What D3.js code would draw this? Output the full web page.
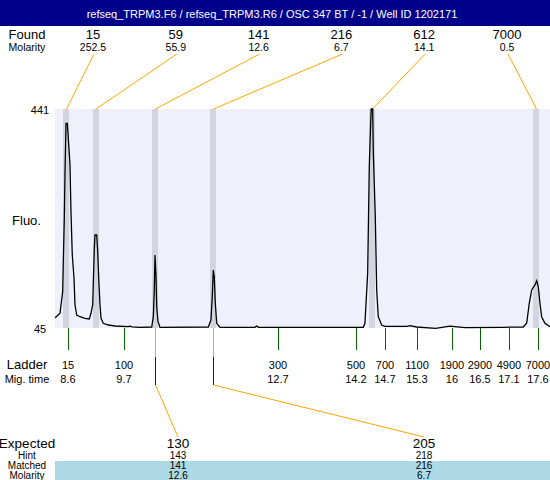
<!DOCTYPE html>
<html><head><meta charset="utf-8">
<script src="https://cdn.jsdelivr.net/npm/d3@7"></script>
<style>body{margin:0;background:#fff} text{font-family:"Liberation Sans",Arial,sans-serif}</style>
</head><body><svg id="c" width="550" height="480"></svg>
<script>
const title = "refseq_TRPM3.F6 / refseq_TRPM3.R6 / OSC 347 BT / -1 / Well ID 1202171";
const foundSize = [15, 59, 141, 216, 612, 7000];
const foundMolarity = ["252.5", "55.9", "12.6", "6.7", "14.1", "0.5"];
const foundTime = [8.570, 9.135, 10.274, 11.385, 14.430, 17.571];
const ladderSize = [15, 100, 300, 500, 700, 1100, 1900, 2900, 4900, 7000];
const ladderMigTime = ["8.6", "9.7", "12.7", "14.2", "14.7", "15.3", "16", "16.5", "17.1", "17.6"];
const ladderPeakTime = [8.599, 9.671, 12.620, 14.114, 14.669, 15.282, 15.952, 16.488, 17.043, 17.599];
const expectedSize = [130, 205];
const hintSize = [143, 218];
const matchedSize = [141, 216];
const matchedMolarity = ["12.6", "6.7"];
const yTicks = [45, 441];
const traceTime = [8.350,8.394,8.446,8.497,8.509,8.528,8.542,8.561,8.586,8.605,8.637,8.656,8.681,8.714,8.733,8.766,8.829,8.925,9.007,9.039,9.072,9.083,9.103,9.116,9.149,9.168,9.187,9.212,9.231,9.275,9.371,9.499,9.754,9.786,9.824,9.978,10.202,10.233,10.252,10.265,10.285,10.298,10.323,10.361,11.286,11.337,11.362,11.381,11.400,11.420,11.447,11.510,12.180,12.213,12.247,14.254,14.286,14.338,14.369,14.395,14.407,14.434,14.445,14.484,14.511,14.541,14.606,14.669,15.085,15.148,15.276,15.640,15.914,16.201,16.935,17.318,17.383,17.433,17.479,17.542,17.575,17.605,17.638,17.670,17.733,17.829];
const traceFluo = [63.1,67.2,71.6,110.6,164.9,243.4,327.6,415.1,415.1,388.0,339.8,255.3,177.0,134.9,86.6,68.5,65.4,62.5,61.3,71.6,86.6,122.8,189.1,213.2,213.2,183.0,134.9,86.6,62.5,53.5,50.4,48.6,47.4,48.3,47.2,46.3,46.8,65.4,113.7,177.0,137.8,83.5,56.4,46.3,46.8,59.5,101.6,149.9,137.8,89.7,53.5,46.3,46.3,48.6,46.3,46.3,53.5,143.9,336.7,415.1,441,441,366.9,246.3,113.7,65.4,50.4,48.1,48.1,49.2,46.8,44.5,48.3,45.5,46.3,46.8,53.5,89.7,113.7,122.8,130.5,119.7,89.7,65.4,53.5,47.4];

const svg = d3.select("#c");
const W = 550, H = 480;
const x = d3.scaleLinear().domain([8.35, 17.83]).range([55, 550]);
const y = d3.scaleLinear().domain([45, 441]).range([328, 109]);
const orange = "#ffa500", green = "#006400";
const labelX = 27;
const px = v => Math.round(v) + 0.5;

svg.append("rect").attr("width", W).attr("height", H).attr("fill", "#fff");
// title bar
svg.append("rect").attr("x", 0).attr("y", 0).attr("width", W).attr("height", 26).attr("fill", "#00008b");
svg.append("text").attr("x", 272).attr("y", 13.5).attr("text-anchor", "middle").attr("dominant-baseline", "central")
  .attr("fill", "#fff").attr("font-size", 11).text(title);

// found rows
const fx = d3.scalePoint().domain(d3.range(foundSize.length)).range([93, 507]);
svg.append("text").attr("x", labelX).attr("y", 34).attr("text-anchor", "middle").attr("dominant-baseline", "central").attr("font-size", 13).text("Found");
svg.append("text").attr("x", labelX).attr("y", 47).attr("text-anchor", "middle").attr("dominant-baseline", "central").attr("font-size", 10.5).text("Molarity");
svg.selectAll(".fs").data(foundSize).join("text").attr("x", (d, i) => fx(i)).attr("y", 34)
  .attr("text-anchor", "middle").attr("dominant-baseline", "central").attr("font-size", 13).text(d => d);
svg.selectAll(".fm").data(foundMolarity).join("text").attr("x", (d, i) => fx(i)).attr("y", 47)
  .attr("text-anchor", "middle").attr("dominant-baseline", "central").attr("font-size", 10.5).text(d => d);

// plot area
const x0 = x.range()[0], x1 = x.range()[1], yTop = y(441), yBot = y(45);
svg.append("rect").attr("x", x0).attr("y", yTop).attr("width", x1 - x0).attr("height", yBot - yTop).attr("fill", "#f0f0fc");
svg.selectAll(".band").data(foundTime).join("rect").attr("x", d => Math.round(x(d) - 3)).attr("y", yTop)
  .attr("width", 6).attr("height", yBot - yTop).attr("fill", "#d4d4e0");

// connectors
svg.selectAll(".conn").data(foundTime).join("line")
  .attr("x1", (d, i) => fx(i) + 1).attr("y1", 54).attr("x2", d => x(d)).attr("y2", yTop)
  .attr("stroke", orange).attr("stroke-width", 1);

// trace
svg.append("clipPath").attr("id", "clip").append("rect").attr("x", x0).attr("y", yTop - 1).attr("width", x1 - x0).attr("height", yBot - yTop + 2);
const line = d3.line().x(d => x(d[0])).y(d => y(d[1]));
svg.append("path").datum(traceTime.map((t, i) => [t, traceFluo[i]])).attr("d", line)
  .attr("fill", "none").attr("stroke", "#000").attr("stroke-width", 1.3).attr("clip-path", "url(#clip)");

// y labels
svg.selectAll(".yt").data(yTicks).join("text").attr("x", 40).attr("y", d => y(d) + 1)
  .attr("text-anchor", "middle").attr("dominant-baseline", "central").attr("font-size", 11).text(d => d);
svg.append("text").attr("x", 26.5).attr("y", 220).attr("text-anchor", "middle").attr("dominant-baseline", "central").attr("font-size", 13).text("Fluo.");

// ladder
svg.selectAll(".lt").data(ladderPeakTime).join("line").attr("x1", d => px(x(d))).attr("x2", d => px(x(d)))
  .attr("y1", yBot).attr("y2", 350).attr("stroke", green).attr("stroke-width", 1).attr("shape-rendering", "crispEdges");
svg.append("text").attr("x", labelX).attr("y", 364.5).attr("text-anchor", "middle").attr("dominant-baseline", "central").attr("font-size", 13).text("Ladder");
svg.append("text").attr("x", labelX).attr("y", 378.5).attr("text-anchor", "middle").attr("dominant-baseline", "central").attr("font-size", 11).text("Mig. time");
svg.selectAll(".ls").data(ladderSize).join("text").attr("x", (d, i) => x(ladderPeakTime[i])).attr("y", 364.5)
  .attr("text-anchor", "middle").attr("dominant-baseline", "central").attr("font-size", 11).text(d => d);
svg.selectAll(".lm").data(ladderMigTime).join("text").attr("x", (d, i) => x(ladderPeakTime[i])).attr("y", 378.5)
  .attr("text-anchor", "middle").attr("dominant-baseline", "central").attr("font-size", 11).text(d => d);

// expected
const ex = d3.scalePoint().domain(d3.range(expectedSize.length)).range([178, 424]);
const matchedTime = matchedSize.map(s => foundTime[foundSize.indexOf(s)]);
matchedTime.forEach((t, i) => {
  const xx = px(x(t));
  svg.append("line").attr("x1", xx).attr("x2", xx).attr("y1", yBot).attr("y2", 357).attr("stroke", orange).attr("shape-rendering", "crispEdges");
  svg.append("line").attr("x1", xx).attr("x2", xx).attr("y1", 357).attr("y2", 385).attr("stroke", "#0000ff").attr("shape-rendering", "crispEdges");
  svg.append("line").attr("x1", xx).attr("x2", ex(i)).attr("y1", 385).attr("y2", 437).attr("stroke", orange);
});
svg.append("rect").attr("x", x0).attr("y", 461).attr("width", x1 - x0).attr("height", 19).attr("fill", "#add8e6");
const rows = [["Expected", expectedSize, 443.5, 13.5], ["Hint", hintSize, 455, 10], ["Matched", matchedSize, 465.5, 10], ["Molarity", matchedMolarity, 475, 10]];
rows.forEach(([lab, vals, yy, fsz]) => {
  svg.append("text").attr("x", labelX).attr("y", yy).attr("text-anchor", "middle").attr("dominant-baseline", "central").attr("font-size", fsz).text(lab);
  svg.selectAll(null).data(vals).join("text").attr("x", (d, i) => ex(i)).attr("y", yy)
    .attr("text-anchor", "middle").attr("dominant-baseline", "central").attr("font-size", fsz).text(d => d);
});
</script></body></html>
